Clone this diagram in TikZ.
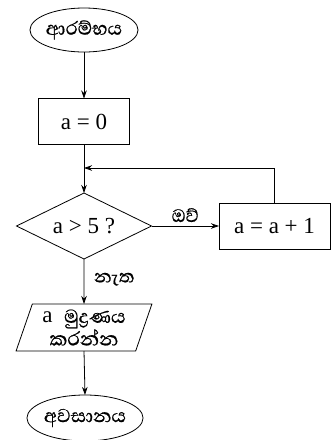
\documentclass[tikz,border=0pt]{standalone}
\usepackage{fontspec}
\setmainfont{Liberation Serif}
\newfontfamily\sinhfont[Script=Sinhala,FakeBold=0.6]{Abhaya Libre}
\usetikzlibrary{shapes.geometric,arrows.meta}
\begin{document}
\begin{tikzpicture}[x=1pt,y=-1pt,
  every node/.style={inner sep=0pt, outer sep=0pt},
  base/.style={draw, line width=0.8pt},
  term/.style={base, ellipse, minimum width=92pt, minimum height=44pt, font=\sinhfont\fontsize{24}{26}\selectfont},
  procbox/.style={base, rectangle, minimum height=46pt, font=\fontsize{23}{25}\selectfont},
  decide/.style={base, diamond, aspect=2, minimum width=135pt, minimum height=66pt, font=\fontsize{23}{25}\selectfont},
  iobox/.style={base, trapezium, trapezium left angle=70, trapezium right angle=110, trapezium stretches=true, minimum width=136pt, minimum height=47pt, align=center},
  lbl/.style={font=\sinhfont\fontsize{23}{25}\selectfont},
  arr/.style={line width=0.8pt, -{Stealth[length=8pt,width=5.5pt]}}
]
\useasboundingbox (0,0) rectangle (331,440);
\fill[white] (0,0) rectangle (331,440);
\node[term] (start) at (84,30) {ආරම්භය};
\node[procbox, minimum width=91pt] (init) at (84,121.5) {a = 0};
\node[decide] (dec) at (84,226) {a > 5 ?};
\node[procbox, minimum width=111pt] (inc) at (274.5,226) {a = a + 1};
\node[iobox] (out) at (84,327.5) {\fontsize{23}{21}\selectfont a\ \ \sinhfont\fontsize{24}{21}\selectfont මුද්‍රණය\\ \sinhfont\fontsize{25}{21}\selectfont කරන්න};
\node[term, minimum width=93pt, minimum height=46pt] (stop) at (85,418) {අවසානය};
\coordinate (join) at (84,168);
\draw[arr] (start) -- (init);
\draw[base] (init) -- (join);
\draw[arr] (join) -- (dec.north);
\draw[arr] (inc.north) |- (join);
\draw[arr] (dec.east) -- node[lbl, above=4pt] {ඔව්} (inc.west);
\draw[arr] (dec.south) -- node[lbl, right=10pt, pos=0.45] {නැත} (out.north);
\draw[arr] (out.south) -- (stop.north);
\end{tikzpicture}
\end{document}
